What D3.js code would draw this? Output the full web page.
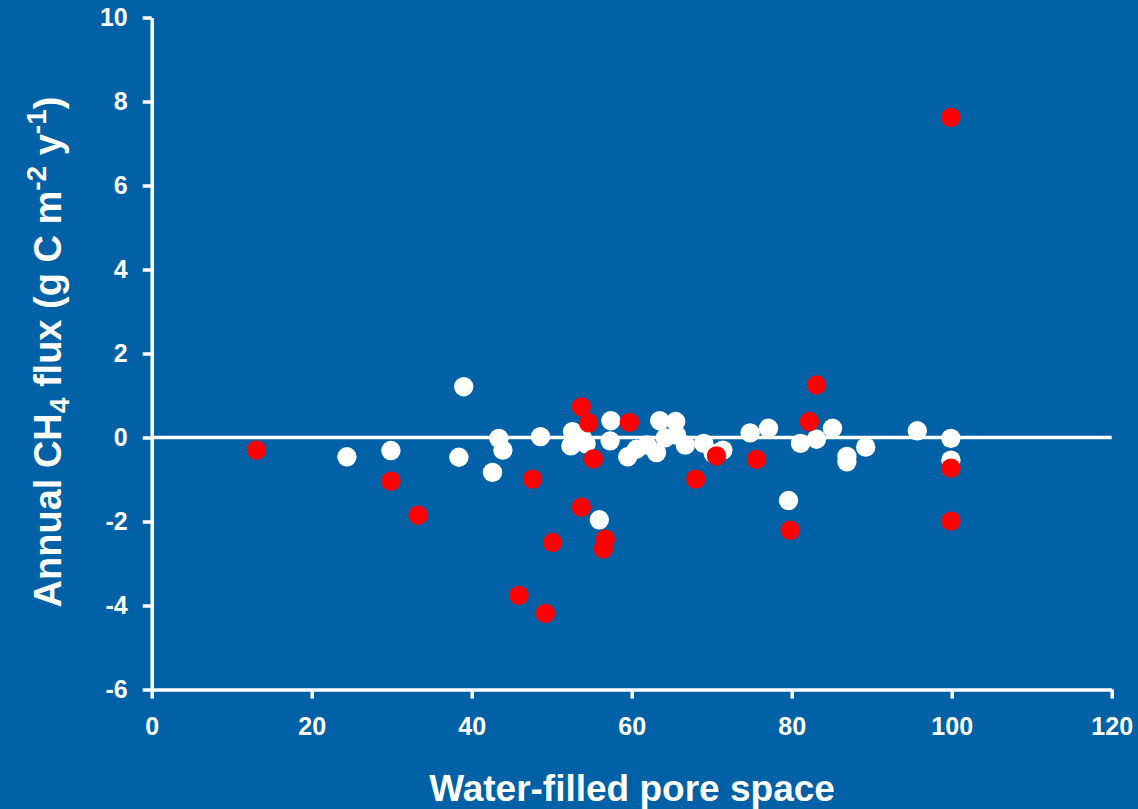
<!DOCTYPE html>
<html>
<head>
<meta charset="utf-8">
<script src="https://cdn.jsdelivr.net/npm/d3@7"></script>
<style>
  html, body { margin: 0; padding: 0; background: #0061a6; }
  svg { display: block; }
  text { font-family: "Liberation Sans", Arial, sans-serif; font-weight: bold; fill: #ffffff; }
</style>
</head>
<body>
<svg id="chart" width="1138" height="809"></svg>
<script>
// Water-filled pore space (%) and annual CH4 flux (g C m-2 y-1)
const whiteX = [24.4, 29.9, 38.4, 39.0, 42.6, 43.4, 43.9, 48.6, 52.6, 52.4, 54.3, 53.8,
                57.4, 57.3, 55.95, 59.5, 60.6, 61.9, 63.1, 63.5, 65.5, 64.2, 65.6, 66.7,
                69.0, 70.2, 71.4, 74.8, 77.1, 79.6, 81.1, 83.1, 85.1, 86.9, 86.9, 89.25,
                95.7, 99.9, 99.9];
const whiteY = [-0.46, -0.31, -0.47, 1.21, -0.83, -0.02, -0.30, 0.02, 0.14, -0.20, -0.15, 0.0,
                0.40, -0.08, -1.96, -0.46, -0.28, -0.18, -0.36, 0.40, 0.38, -0.01, 0.06, -0.18,
                -0.14, -0.38, -0.30, 0.11, 0.22, -1.50, -0.14, -0.04, 0.22, -0.45, -0.58, -0.23,
                0.16, -0.02, -0.54];

const redX = [13.1, 29.9, 33.3, 45.9, 47.6, 49.2, 50.1, 53.7, 54.6, 53.7, 55.2, 56.7,
              56.45, 59.7, 68.0, 70.6, 75.6, 79.8, 82.2, 83.1, 99.9, 99.9, 99.9];
const redY = [-0.30, -1.04, -1.85, -3.76, -0.99, -4.19, -2.50, 0.73, 0.35, -1.66, -0.51, -2.42,
              -2.65, 0.36, -0.99, -0.44, -0.52, -2.21, 0.38, 1.25, 7.62, -0.73, -1.99];

const xTicks = [0, 20, 40, 60, 80, 100, 120];
const yTicks = [-6, -4, -2, 0, 2, 4, 6, 8, 10];

const svg = d3.select("#chart");

const x = d3.scaleLinear().domain([0, 120]).range([151.7, 1111.7]);
const y = d3.scaleLinear().domain([-6, 10]).range([689.5, 17.5]);

// Axes (plain hyphen for negative labels)
const fmt = d => String(d);
const xAxis = svg.append("g")
  .attr("transform", `translate(0,${y(-6)})`)
  .call(d3.axisBottom(x).tickValues(xTicks).tickFormat(fmt)
    .tickSizeInner(9).tickSizeOuter(0).tickPadding(19));
const yAxis = svg.append("g")
  .attr("transform", `translate(${x(0)},0)`)
  .call(d3.axisLeft(y).tickValues(yTicks).tickFormat(fmt)
    .tickSizeInner(9).tickSizeOuter(0).tickPadding(15));

[xAxis, yAxis].forEach(g => {
  g.select(".domain").attr("stroke", "#fff").attr("stroke-width", 3.5);
  g.selectAll(".tick line").attr("stroke", "#fff").attr("stroke-width", 3.5);
  g.selectAll(".tick text")
    .attr("fill", "#fff")
    .style("font-family", '"Liberation Sans", Arial, sans-serif')
    .style("font-weight", "bold")
    .style("font-size", "25px");
});

// Zero reference line
svg.append("line")
  .attr("x1", x(0)).attr("x2", x(120))
  .attr("y1", y(0)).attr("y2", y(0))
  .attr("stroke", "#fff").attr("stroke-width", 3.5);

// Points
const r = 9.7;
svg.append("g").selectAll("circle")
  .data(d3.range(whiteX.length))
  .join("circle")
  .attr("cx", i => x(whiteX[i]))
  .attr("cy", i => y(whiteY[i]))
  .attr("r", r)
  .attr("fill", "#ffffff");

svg.append("g").selectAll("circle")
  .data(d3.range(redX.length))
  .join("circle")
  .attr("cx", i => x(redX[i]))
  .attr("cy", i => y(redY[i]))
  .attr("r", r)
  .attr("fill", "#ff0000");

// Axis titles
svg.append("text")
  .attr("x", 632).attr("y", 801)
  .attr("text-anchor", "middle")
  .style("font-size", "37px")
  .text("Water-filled pore space");

const yt = svg.append("text")
  .attr("transform", "translate(61,352) rotate(-90)")
  .attr("text-anchor", "middle")
  .style("font-size", "38px");
yt.append("tspan").text("Annual CH");
yt.append("tspan").attr("dy", 8).style("font-size", "28px").text("4");
yt.append("tspan").attr("dy", -8).text(" flux (g C m");
yt.append("tspan").attr("dy", -15).style("font-size", "28px").text("-2");
yt.append("tspan").attr("dy", 15).text(" y");
yt.append("tspan").attr("dy", -15).style("font-size", "28px").text("-1");
yt.append("tspan").attr("dy", 15).text(")");
</script>
</body>
</html>
